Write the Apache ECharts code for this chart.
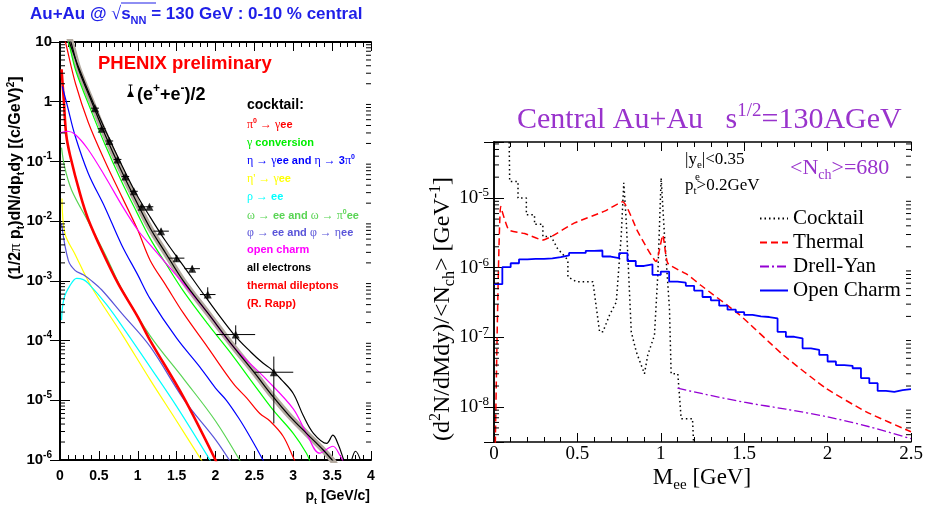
<!DOCTYPE html>
<html>
<head>
<meta charset="utf-8">
<title>Au+Au electrons</title>
<style>
html,body{margin:0;padding:0;background:#fff;}
#chart{width:927px;height:510px;}
</style>
</head>
<body>
<div id="chart"></div>
<script src="https://cdn.jsdelivr.net/npm/echarts@6/dist/echarts.min.js"></script>
<script>
// ---------- left panel: electron pt spectra, [pt GeV/c, (1/2pi pt) dN/dpt dy]
var allElectrons = [[0.09,13],[0.12,10],[0.235,3.9],[0.4,1.15],[0.58,0.34],[0.78,0.095],[0.985,0.028],[1.16,0.0117],[1.36,4.6e-3],[1.585,1.8e-3],[1.9,4.8e-4],[2.23,1.3e-4],[2.45,6.5e-5],[2.61,4.2e-5],[2.72,3.3e-5],[2.85,2.2e-5],[3.0,1.3e-5],[3.13,5.5e-6],[3.26,2.8e-6],[3.43,1.9e-6],[3.51,2.6e-6],[3.58,1.8e-6],[3.65,1.0e-6],[3.7,7e-7],[3.8,1.4e-6],[3.9,7e-7]];
var cocktailSum = [[0.1,13],[0.14,10],[0.235,3.6],[0.4,1.05],[0.58,0.28],[0.78,0.074],[0.985,0.021],[1.16,7.6e-3],[1.36,2.9e-3],[1.585,1.0e-3],[1.9,2.9e-4],[2.23,7.9e-5],[2.5,2.9e-5],[2.74,1.15e-5],[2.95,5.5e-6],[3.17,2.8e-6],[3.38,1.5e-6],[3.5,1.0e-6],[3.55,8e-7]];
var pi0Dalitz = [[0.05,12],[0.07,10],[0.2,2.0],[0.364,0.45],[0.58,0.1],[0.8,0.025],[1.0,7.1e-3],[1.16,2.2e-3],[1.36,8.5e-4],[1.585,2.9e-4],[1.9,7.7e-5],[2.23,1.9e-5],[2.4,1.1e-5],[2.57,6.0e-6],[2.7,4.5e-6],[2.87,2.5e-6],[3.0,1.1e-6],[3.03,9e-7]];
var gammaConv = [[0.08,12],[0.11,10],[0.2,3.4],[0.4,0.71],[0.58,0.19],[0.78,0.05],[0.985,0.0143],[1.16,5.1e-3],[1.36,1.95e-3],[1.585,6.8e-4],[1.9,1.9e-4],[2.23,5.4e-5],[2.5,1.8e-5],[2.74,6.9e-6],[3.0,2.8e-6],[3.17,1.3e-6],[3.22,9e-7]];
var etaDecay = [[0.03,1.8],[0.1,0.8],[0.19,0.28],[0.364,0.063],[0.578,0.017],[0.793,4.0e-3],[1.0,1.26e-3],[1.16,5.0e-4],[1.5,1.1e-4],[1.8,3.6e-5],[2.0,1.6e-5],[2.14,1.0e-5],[2.3,5.0e-6],[2.44,2.5e-6],[2.61,1.0e-6],[2.64,8e-7]];
var etaPrime = [[0.025,0.024],[0.064,6.2e-3],[0.193,2.8e-3],[0.407,7.8e-4],[0.8,1.26e-4],[1.16,2.2e-5],[1.5,4.5e-6],[1.84,9e-7]];
var rhoDecay = [[0.02,2.2e-4],[0.05,5e-4],[0.128,8.3e-4],[0.214,1.1e-3],[0.3,1.05e-3],[0.364,9.1e-4],[0.6,4.0e-4],[0.85,1.4e-4],[1.16,3.6e-5],[1.5,7.9e-6],[1.95,9e-7]];
var omegaDecay = [[0.02,0.17],[0.06,0.08],[0.15,0.033],[0.36,0.01],[0.58,2.8e-3],[0.8,7.1e-4],[1.16,1.2e-4],[1.6,2.2e-5],[2.0,4.5e-6],[2.33,9e-7]];
var phiDecay = [[0.02,9e-3],[0.107,2.2e-3],[0.193,1.5e-3],[0.3,1.26e-3],[0.407,1.0e-3],[0.535,7.1e-4],[0.8,2.8e-4],[1.16,7.9e-5],[1.6,1.0e-5],[2.0,2.2e-6],[2.2,9e-7]];
var openCharmPt = [[0.0,0.3],[0.1,0.32],[0.2,0.28],[0.36,0.16],[0.58,0.056],[0.8,0.018],[1.0,7.1e-3],[1.16,4.0e-3],[1.585,9.1e-4],[1.9,2.9e-4],[2.23,7.9e-5],[2.66,2.2e-5],[3.0,7.2e-6],[3.17,2.8e-6],[3.34,1.3e-6],[3.51,1.7e-6],[3.6,1.2e-6],[3.65,9e-7]];
var thermalPt = [[0.02,3.5],[0.05,1.0],[0.08,0.28],[0.13,0.126],[0.26,0.028],[0.36,0.011],[0.54,3.2e-3],[0.75,8.9e-4],[1.0,2.5e-4],[1.16,1.0e-4],[1.585,1.15e-5],[2.0,1.0e-6],[2.02,8e-7]];

// measured (e+ + e-)/2
var ptPts  = [0.45,0.536,0.634,0.74,0.84,0.95,1.05,1.15,1.30,1.50,1.70,1.90,2.26,2.75];
var ptVal  = [0.78,0.353,0.22,0.108,0.056,0.0316,0.0174,0.0174,0.0068,0.0024,0.0016,5.9e-4,1.26e-4,2.95e-5];
var ptXerr = [0.05,0.05,0.05,0.05,0.05,0.05,0.05,0.05,0.1,0.1,0.1,0.1,0.25,0.25];
var ptYlo  = [0.75,0.34,0.21,0.103,0.053,0.030,0.0165,0.0165,0.0062,0.0021,0.0014,4.8e-4,8.6e-5,4.1e-6];
var ptYhi  = [0.81,0.37,0.23,0.113,0.059,0.033,0.0183,0.0183,0.0075,0.0027,0.0018,7.8e-4,1.8e-4,5.4e-5];

// ---------- right panel: dielectron mass spectra, M_ee in GeV
var massEdges = [0,0.05,0.1,0.15,0.2,0.25,0.3,0.35,0.4,0.45,0.5,0.55,0.6,0.65,0.7,0.75,0.8,0.85,0.9,0.95,1.0,1.05,1.1,1.15,1.2,1.25,1.3,1.35,1.4,1.45,1.5,1.55,1.6,1.65,1.7,1.75,1.8,1.85,1.9,1.95,2.0,2.05,2.1,2.15,2.2,2.25,2.3,2.35,2.4,2.45,2.5];
var openCharmM = [5.8e-7,1.02e-6,1.16e-6,1.32e-6,1.34e-6,1.34e-6,1.36e-6,1.42e-6,1.50e-6,1.63e-6,1.63e-6,1.75e-6,1.77e-6,1.45e-6,1.37e-6,1.62e-6,1.25e-6,1.06e-6,1.12e-6,7.9e-7,8.8e-7,6.3e-7,6.1e-7,5.5e-7,4.7e-7,3.8e-7,3.4e-7,2.85e-7,2.5e-7,2.3e-7,2.1e-7,2.0e-7,1.96e-7,1.87e-7,1.2e-7,1.02e-7,9.7e-8,6.95e-8,6.6e-8,5.6e-8,4.5e-8,4.0e-8,3.9e-8,3.6e-8,2.6e-8,2.2e-8,1.7e-8,1.65e-8,1.75e-8,1.8e-8];
var cocktailM = [[0.09,1e-4],[0.094,1.74e-5],[0.144,1.74e-5],[0.144,1.0e-5],[0.194,1.0e-5],[0.194,5.75e-6],[0.243,5.75e-6],[0.243,4.2e-6],[0.293,4.2e-6],[0.293,2.8e-6],[0.343,2.8e-6],[0.38,1.9e-6],[0.443,1.29e-6],[0.443,7.4e-7],[0.493,6.3e-7],[0.593,6.3e-7],[0.633,1.2e-7],[0.653,1.2e-7],[0.693,2.1e-7],[0.733,3.2e-7],[0.763,2.95e-6],[0.778,1.66e-5],[0.793,4.6e-6],[0.823,1.2e-7],[0.853,6.2e-8],[0.902,3.0e-8],[0.922,5.6e-8],[0.962,1.07e-7],[0.982,7.9e-7],[1.002,1.95e-5],[1.022,2.95e-6],[1.052,2.6e-7],[1.062,3.0e-8],[1.102,3.0e-8],[1.122,6.8e-9],[1.19,6.8e-9],[1.2,2e-9]];
var thermalM = [[0.008,3e-9],[0.04,7.6e-6],[0.088,3.5e-6],[0.184,3.1e-6],[0.293,2.5e-6],[0.343,2.8e-6],[0.483,4.4e-6],[0.663,6.5e-6],[0.772,8.9e-6],[0.862,3.3e-6],[0.972,1.23e-6],[1.012,2.95e-6],[1.042,1.16e-6],[1.162,7.9e-7],[1.24,5.6e-7],[1.473,2.1e-7],[1.733,5.6e-8],[1.992,1.84e-8],[2.232,8.5e-9],[2.5,4.4e-9]];
var drellYanM = [[1.1,1.86e-8],[1.25,1.55e-8],[1.5,1.17e-8],[1.75,9.3e-9],[2.0,7.2e-9],[2.25,5.2e-9],[2.5,3.5e-9]];

var SANS = '"Liberation Sans", Arial, sans-serif';
var SERIF = '"Liberation Serif", "Times New Roman", serif';
var PURPLE = '#9933cc';

function powLabel(v) {
    var l = Math.log10(v), e = Math.round(l);
    if (Math.abs(l - e) > 1e-6) return '';
    if (e === 0) return '{b|1}';
    if (e === 1) return '{b|10}';
    return '{b|10}{s|' + e + '}';
}

function minorLog(lo, hi) {
    var out = [];
    for (var e = Math.floor(Math.log10(lo)); e <= Math.ceil(Math.log10(hi)); e++) {
        for (var m = 2; m <= 9; m++) {
            var v = m * Math.pow(10, e);
            if (v > lo && v < hi) out.push([0, v]);
        }
    }
    return out;
}

function tickSeries(vals, axis, len) {
    return {
        type: 'custom', xAxisIndex: axis, yAxisIndex: axis, silent: true, z: 6,
        data: vals,
        renderItem: function (params, api) {
            var cs = params.coordSys;
            var y = api.coord([0, api.value(1)])[1];
            return {type: 'group', children: [
                {type: 'line', shape: {x1: cs.x, y1: y, x2: cs.x + len, y2: y}, style: {stroke: '#000', lineWidth: 1}},
                {type: 'line', shape: {x1: cs.x + cs.width - len, y1: y, x2: cs.x + cs.width, y2: y}, style: {stroke: '#000', lineWidth: 1}}
            ]};
        }
    };
}

function curve(name, data, color, width, axis, extra) {
    var s = {
        type: 'line', name: name, data: data, xAxisIndex: axis, yAxisIndex: axis,
        symbol: 'none', showSymbol: false, smooth: 0.35, clip: true, silent: true,
        lineStyle: {color: color, width: width}, itemStyle: {color: color}, z: 3
    };
    for (var k in extra) s[k] = extra[k];
    return s;
}

function xAx(grid, pos, min, max, interval, labels, lab) {
    return {
        type: 'value', gridIndex: grid, position: pos, min: min, max: max, interval: interval,
        axisLine: {show: true, onZero: false, lineStyle: {color: '#000', width: grid === 0 ? 2 : 1.5}},
        axisTick: {show: true, inside: true, length: 9, lineStyle: {color: '#000'}},
        minorTick: {show: true, splitNumber: 5, length: 5, lineStyle: {color: '#000'}},
        splitLine: {show: false},
        axisLabel: labels ? lab : {show: false}
    };
}

function yAx(grid, pos, min, max, labels, lab) {
    return {
        type: 'log', gridIndex: grid, position: pos, min: min, max: max, logBase: 10,
        axisLine: {show: true, lineStyle: {color: '#000', width: grid === 0 ? 2 : 1.5}},
        axisTick: {show: true, inside: true, length: 10, lineStyle: {color: '#000'}},
        minorTick: {show: false},
        splitLine: {show: false},
        axisLabel: labels ? lab : {show: false}
    };
}

var leftXLabel = {
    margin: 9, color: '#000', fontFamily: SANS, fontWeight: 'bold', fontSize: 14,
    formatter: function (v) { return v; }
};
var rightXLabel = {margin: 3, color: '#000', fontFamily: SERIF, fontSize: 19};
var leftYLabel = {
    margin: 8, formatter: powLabel,
    rich: {
        b: {fontFamily: SANS, fontWeight: 'bold', fontSize: 15, color: '#000', lineHeight: 20, verticalAlign: 'middle'},
        s: {fontFamily: SANS, fontWeight: 'bold', fontSize: 10, color: '#000', lineHeight: 10, verticalAlign: 'top'}
    }
};
var rightYLabel = {
    margin: 5, formatter: powLabel,
    rich: {
        b: {fontFamily: SERIF, fontSize: 19, color: '#000', lineHeight: 24, verticalAlign: 'middle'},
        s: {fontFamily: SERIF, fontSize: 13, color: '#000', lineHeight: 13, verticalAlign: 'top'}
    }
};

var series = [
    tickSeries(minorLog(1e-6, 10), 0, 5),
    tickSeries(minorLog(3.14e-9, 6.4e-5), 2, 5),
    curve('band', cocktailSum, '#b3aaa0', 6, 0, {z: 2}),
    curve('yellow', etaPrime, '#ffff00', 1.2, 0),
    curve('cyan', rhoDecay, '#00ffff', 1.2, 0),
    curve('phi', phiDecay, '#5954d9', 1.2, 0),
    curve('omega', omegaDecay, '#59d454', 1.2, 0),
    curve('thermalPt', thermalPt, '#ff0000', 2.6, 0),
    curve('eta', etaDecay, '#0000ff', 1.2, 0),
    curve('pi0', pi0Dalitz, '#ff0000', 1.2, 0),
    curve('conv', gammaConv, '#00ff00', 1.2, 0),
    curve('charmPt', openCharmPt, '#ff00ff', 1.2, 0),
    curve('sum', cocktailSum, '#000000', 1.2, 0),
    curve('all', allElectrons, '#000000', 1.2, 0),
    {
        type: 'custom', xAxisIndex: 0, yAxisIndex: 0, silent: true, z: 7,
        data: ptPts.map(function (p, i) { return [p, ptVal[i], p - ptXerr[i], p + ptXerr[i], ptYlo[i], ptYhi[i]]; }),
        renderItem: function (params, api) {
            var c = api.coord([api.value(0), api.value(1)]);
            var l = api.coord([api.value(2), api.value(1)]);
            var r = api.coord([api.value(3), api.value(1)]);
            var lo = api.coord([api.value(0), api.value(4)]);
            var hi = api.coord([api.value(0), api.value(5)]);
            return {type: 'group', children: [
                {type: 'line', shape: {x1: l[0], y1: c[1], x2: r[0], y2: c[1]}, style: {stroke: '#000', lineWidth: 1}},
                {type: 'line', shape: {x1: c[0], y1: lo[1], x2: c[0], y2: hi[1]}, style: {stroke: '#000', lineWidth: 1}}
            ]};
        }
    },
    {
        type: 'scatter', xAxisIndex: 0, yAxisIndex: 0, silent: true, z: 8,
        symbol: 'triangle', symbolSize: 8, itemStyle: {color: '#000'},
        data: ptPts.map(function (p, i) { return [p, ptVal[i]]; })
    },
    // right panel
    curve('Cocktail', cocktailM, '#000000', 1.5, 2, {smooth: false, lineStyle: {color: '#000', width: 1.5, type: [1.5, 3]}}),
    curve('Thermal', thermalM, '#ff0000', 1.5, 2, {smooth: 0.15, lineStyle: {color: '#ff0000', width: 1.5, type: [7, 4]}}),
    curve('Drell-Yan', drellYanM, '#9400d3', 1.3, 2, {smooth: 0.3, lineStyle: {color: '#9400d3', width: 1.3, type: [9, 3, 2, 3]}}),
    curve('Open Charm', massEdges.map(function (m, i) { return [m, openCharmM[Math.min(i, openCharmM.length - 1)]]; }),
        '#0000ff', 1.8, 2, {smooth: false, step: 'end'})
];

function txt(x, y, text, rich, fill, o) {
    var el = {
        type: 'text', x: x, y: y, silent: true, z: 20,
        style: {text: text, rich: rich, fill: fill || '#000', align: 'left', textAlign: 'left', verticalAlign: 'middle', textVerticalAlign: 'middle'}
    };
    if (o) {
        if (o.align) { el.style.align = o.align; el.style.textAlign = o.align; }
        if (o.rotation) el.rotation = o.rotation;
    }
    return el;
}

function sansRich(size, lh) {
    return {
        a: {fontFamily: SANS, fontWeight: 'bold', fontSize: size, lineHeight: lh, verticalAlign: 'middle'},
        g: {fontFamily: SERIF, fontWeight: 'normal', fontSize: size + 1, lineHeight: lh, verticalAlign: 'middle'},
        s: {fontFamily: SANS, fontWeight: 'bold', fontSize: Math.round(size * 0.65), lineHeight: Math.round(size * 0.65), verticalAlign: 'top'},
        b: {fontFamily: SANS, fontWeight: 'bold', fontSize: Math.round(size * 0.65), lineHeight: Math.round(size * 0.65), verticalAlign: 'bottom'}
    };
}
function serifRich(size, lh) {
    return {
        a: {fontFamily: SERIF, fontSize: size, lineHeight: lh, verticalAlign: 'middle'},
        s: {fontFamily: SERIF, fontSize: Math.round(size * 0.65), lineHeight: Math.round(size * 0.65), verticalAlign: 'top'},
        b: {fontFamily: SERIF, fontSize: Math.round(size * 0.65), lineHeight: Math.round(size * 0.65), verticalAlign: 'bottom'}
    };
}

var legR = sansRich(11, 15);
var graphics = [
    txt(30, 14, '{a|Au+Au @ }{g|√}{a|s}{b|NN}{a| = 130 GeV : 0-10 % central}', sansRich(17, 24), '#1f1fe8'),
    {type: 'line', silent: true, z: 20, shape: {x1: 121, y1: 3, x2: 156, y2: 3}, style: {stroke: '#1f1fe8', lineWidth: 1.2}},
    txt(98, 64, '{a|PHENIX preliminary}', sansRich(18.5, 22), '#ff0000'),
    txt(137, 95, '{a|(e}{s|+}{a|+e}{s|-}{a|)/2}', sansRich(18, 24), '#000'),
    {type: 'polygon', silent: true, z: 20, shape: {points: [[127, 97], [134, 97], [130.5, 90]]}, style: {fill: '#000'}},
    {type: 'line', silent: true, z: 20, shape: {x1: 130.5, y1: 85, x2: 130.5, y2: 97}, style: {stroke: '#000', lineWidth: 1}},
    {type: 'line', silent: true, z: 20, shape: {x1: 128.5, y1: 85, x2: 132.5, y2: 85}, style: {stroke: '#000', lineWidth: 1}},
    txt(247, 105, '{a|cocktail:}', sansRich(14, 18), '#000'),
    txt(247, 125, '{g|π}{s|0}{a| }{g|→ γ}{a|ee}', legR, '#ff0000'),
    txt(247, 143, '{g|γ}{a| conversion}', legR, '#00ee00'),
    txt(247, 161, '{g|η → γ}{a|ee and }{g|η →}{a| 3}{g|π}{s|0}', legR, '#0000ff'),
    txt(247, 179, "{g|η' → γ}{a|ee}", legR, '#ffff00'),
    txt(247, 197, '{g|ρ →}{a| ee}', legR, '#00ffff'),
    txt(247, 216, '{g|ω →}{a| ee and }{g|ω → π}{s|0}{a|ee}', legR, '#59d454'),
    txt(247, 233, '{g|φ →}{a| ee and }{g|φ → η}{a|ee}', legR, '#5954d9'),
    txt(247, 250, '{a|open charm}', legR, '#ff00ff'),
    txt(247, 268, '{a|all electrons}', legR, '#000'),
    txt(247, 286, '{a|thermal dileptons}', legR, '#ff0000'),
    txt(247, 304, '{a|(R. Rapp)}', legR, '#ff0000'),
    txt(16, 178, '{a|(1/2}{g|π}{a| p}{b|t}{a|)dN/dp}{b|t}{a|dy [(c/GeV)}{s|2}{a|]}', sansRich(16, 20), '#000', {align: 'center', rotation: Math.PI / 2}),
    txt(370, 496, '{a|p}{b|t}{a| [GeV/c]}', sansRich(14, 20), '#000', {align: 'right'}),
    // right panel texts
    txt(517, 120, '{a|Central Au+Au   s}{s|1/2}{a|=130AGeV}', {
        a: {fontFamily: SERIF, fontSize: 30, lineHeight: 36, verticalAlign: 'middle'},
        s: {fontFamily: SERIF, fontSize: 19, lineHeight: 19, verticalAlign: 'top'}
    }, PURPLE),
    txt(685, 160, '{a||y}{b|e}{a||<0.35}', serifRich(17, 22), '#000'),
    txt(685, 186, '{a|p}{b|t}{a|>0.2GeV}', serifRich(17, 22), '#000'),
    txt(695, 177, '{b|e}', serifRich(17, 22), '#000'),
    txt(790, 168, '{a|<N}{b|ch}{a|>=680}', serifRich(22, 28), PURPLE),
    txt(443, 309, '{a|(d}{s|2}{a|N/dMdy)/<N}{b|ch}{a|> [GeV}{s|-1}{a|]}', serifRich(24, 30), '#000', {align: 'center', rotation: Math.PI / 2}),
    txt(702, 478, '{a|M}{b|ee}{a| [GeV]}', serifRich(23, 30), '#000', {align: 'center'})
];

var option = {
    animation: false,
    backgroundColor: '#fff',
    textStyle: {fontFamily: SANS},
    grid: [
        {left: 60, top: 42, width: 311, height: 418, outerBoundsMode: 'none', containLabel: false},
        {left: 494, top: 142, width: 417, height: 300, outerBoundsMode: 'none', containLabel: false}
    ],
    xAxis: [
        xAx(0, 'bottom', 0, 4, 0.5, true, leftXLabel),
        xAx(0, 'top', 0, 4, 0.5, false),
        xAx(1, 'bottom', 0, 2.5, 0.5, true, rightXLabel),
        xAx(1, 'top', 0, 2.5, 0.5, false)
    ],
    yAxis: [
        yAx(0, 'left', 1e-6, 10, true, leftYLabel),
        yAx(0, 'right', 1e-6, 10, false),
        yAx(1, 'left', 3.14e-9, 6.4e-5, true, rightYLabel),
        yAx(1, 'right', 3.14e-9, 6.4e-5, false)
    ],
    legend: {
        show: true, orient: 'vertical', left: 754, top: 203,
        itemWidth: 28, itemHeight: 14, itemGap: 3,
        itemStyle: {opacity: 0},
        data: ['Cocktail', 'Thermal', 'Drell-Yan', 'Open Charm'],
        textStyle: {fontFamily: SERIF, fontSize: 21, color: '#000'},
        selectedMode: false
    },
    series: series,
    graphic: graphics
};

var chart = echarts.init(document.getElementById('chart'));
chart.setOption(option);
</script>
</body>
</html>
